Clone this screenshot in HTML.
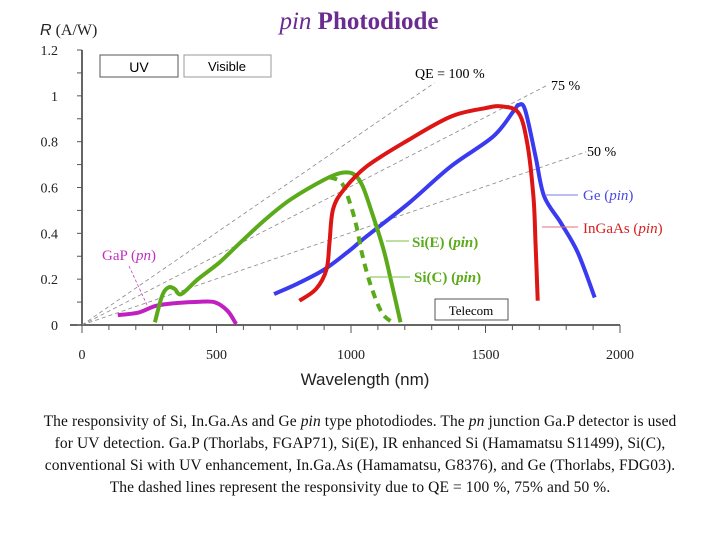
<!DOCTYPE html>
<html><head><meta charset="utf-8">
<style>
html,body{margin:0;padding:0;background:#fff;}
body{width:720px;height:540px;overflow:hidden;position:relative;font-family:"Liberation Serif",serif;}
#caption{position:absolute;left:0px;top:411px;width:720px;text-align:center;font-size:15.5px;letter-spacing:0.1px;line-height:22px;color:#111;white-space:nowrap;}
</style></head><body>
<svg id="chart" width="720" height="400" style="position:absolute;left:0;top:0" font-family="Liberation Serif, serif">
<text x="359" y="29" text-anchor="middle" font-size="25" font-weight="bold" fill="#6a2c91"><tspan font-style="italic" font-weight="normal">pin</tspan> Photodiode</text>
<text x="40" y="35" font-size="16" fill="#222"><tspan font-family="Liberation Sans, sans-serif" font-style="italic">R</tspan> (A/W)</text>
<text x="365" y="385" text-anchor="middle" font-size="17" fill="#222" font-family="Liberation Sans, sans-serif">Wavelength (nm)</text>
<g id="axes"></g>
<g id="qe"></g>
<g id="series"></g>
<g><rect x="100" y="55" width="78" height="22" fill="#fff" stroke="#555"/><text x="139" y="72" text-anchor="middle" font-size="14" font-family="Liberation Sans, sans-serif">UV</text></g>
<g><rect x="184" y="55" width="87" height="22" fill="#fff" stroke="#999"/><text x="227" y="71" text-anchor="middle" font-size="13" font-family="Liberation Sans, sans-serif">Visible</text></g>
<g><rect x="435" y="299" width="73" height="21" fill="#fff" stroke="#555"/><text x="471" y="315" text-anchor="middle" font-size="13">Telecom</text></g>
<text x="415" y="78" font-size="14">QE = 100 %</text>
<text x="551" y="90" font-size="14">75 %</text>
<text x="587" y="156" font-size="14">50 %</text>
<line x1="545" y1="195" x2="578" y2="195" stroke="#7a7ae0" stroke-width="1"/>
<text x="583" y="200" font-size="15" fill="#4a4ae0">Ge (<tspan font-style="italic">pin</tspan>)</text>
<line x1="542" y1="227" x2="578" y2="227" stroke="#e07070" stroke-width="1"/>
<text x="583" y="233" font-size="15" fill="#d62020">InGaAs (<tspan font-style="italic">pin</tspan>)</text>
<line x1="386" y1="241" x2="409" y2="241" stroke="#7bbf40" stroke-width="1"/>
<text x="412" y="247" font-size="15" font-weight="bold" fill="#5aaa1a">Si(E) (<tspan font-style="italic">pin</tspan>)</text>
<line x1="370" y1="277" x2="410" y2="277" stroke="#7bbf40" stroke-width="1"/>
<text x="414" y="282" font-size="15" font-weight="bold" fill="#5aaa1a">Si(C) (<tspan font-style="italic">pin</tspan>)</text>
<line x1="129" y1="266" x2="147" y2="305" stroke="#c040c0" stroke-width="0.8" stroke-dasharray="3,2"/>
<text x="102" y="260" font-size="15" fill="#c030c0">GaP (<tspan font-style="italic">pn</tspan>)</text>
</svg>
<div id="caption">The responsivity of Si, In.Ga.As and Ge <i>pin</i> type photodiodes. The <i>pn</i> junction Ga.P detector is used<br>for UV detection. Ga.P (Thorlabs, FGAP71), Si(E), IR enhanced Si (Hamamatsu S11499), Si(C),<br>conventional Si with UV enhancement, In.Ga.As (Hamamatsu, G8376), and Ge (Thorlabs, FDG03).<br>The dashed lines represent the responsivity due to QE = 100 %, 75% and 50 %.</div>
<script>
const xTicks=[0,500,1000,1500,2000];
const yTicks=[0,0.2,0.4,0.6,0.8,1,1.2];
const yTickLabels=["0","0.2","0.4","0.6","0.8","1","1.2"];
const qeLevels=[1.0,0.75,0.5];
const qeEnd=[1310,1733,1874];
const geX=[714,800,902,1000,1059,1216,1372,1529,1608,1623,1647,1686,1718,1780,1843,1906];
const geY=[0.135,0.18,0.243,0.33,0.388,0.533,0.693,0.823,0.94,0.96,0.94,0.736,0.562,0.446,0.316,0.12];
const inX=[808,870,909,920,933,973,1059,1216,1372,1498,1560,1623,1655,1678,1686,1694];
const inY=[0.106,0.157,0.243,0.36,0.504,0.59,0.693,0.809,0.91,0.946,0.954,0.925,0.794,0.562,0.36,0.106];
const siEX=[271,298,322,345,369,431,510,588,682,776,902,965,1012,1043,1074,1121,1153,1184];
const siEY=[0.012,0.128,0.164,0.157,0.135,0.2,0.272,0.359,0.461,0.548,0.635,0.664,0.657,0.606,0.504,0.33,0.171,0.012];
const siCX=[920,965,996,1020,1043,1074,1114,1153];
const siCY=[0.645,0.62,0.533,0.432,0.301,0.171,0.055,0.012];
const gapX=[133,212,275,353,431,494,541,573];
const gapY=[0.043,0.055,0.084,0.096,0.101,0.099,0.062,0.004];
const NS='http://www.w3.org/2000/svg';
const sx=v=>82+v*(620-82)/2000;
const sy=v=>325-v*(325-50)/1.2;
function mk(tag,attrs,parent){const e=document.createElementNS(NS,tag);for(const k in attrs)e.setAttribute(k,attrs[k]);parent.appendChild(e);return e;}
const axes=document.getElementById('axes');
let a=mk('line',{x1:82,y1:50,x2:82,y2:326,stroke:'#333','stroke-width':1.5},axes);


a=mk('line',{x1:70,y1:325,x2:620,y2:325,stroke:'#333','stroke-width':1.5},axes);


for(let v=0;v<=2000;v+=100){const major=v%500===0;mk('line',{x1:sx(v),y1:325,x2:sx(v),y2:major?333:330,stroke:'#555','stroke-width':1},axes);}
for(let v=0;v<=1.2001;v+=0.1){mk('line',{x1:77,y1:sy(v),x2:82,y2:sy(v),stroke:'#555','stroke-width':1},axes);}
xTicks.forEach(v=>{const t=mk('text',{x:sx(v),y:359,'text-anchor':'middle','font-size':14,fill:'#222'},axes);t.textContent=v;

});
yTicks.forEach((v,i)=>{const t=mk('text',{x:58,y:sy(v)+5,'text-anchor':'end','font-size':14,fill:'#222'},axes);t.textContent=yTickLabels[i];

});
const qe=document.getElementById('qe');
qeLevels.forEach((q,i)=>{const l=mk('line',{x1:sx(0),y1:sy(0),x2:sx(qeEnd[i]),y2:sy(q*qeEnd[i]/1240),stroke:'#888','stroke-width':0.8,'stroke-dasharray':'4,3'},qe);

});
const ser=document.getElementById('series');
function smooth(pts){let d='M'+pts[0][0].toFixed(1)+','+pts[0][1].toFixed(1);
for(let i=0;i<pts.length-1;i++){const p0=pts[i-1]||pts[i],p1=pts[i],p2=pts[i+1],p3=pts[i+2]||p2;
const c1=[p1[0]+(p2[0]-p0[0])/6,p1[1]+(p2[1]-p0[1])/6],c2=[p2[0]-(p3[0]-p1[0])/6,p2[1]-(p3[1]-p1[1])/6];
d+=' C'+c1.map(v=>v.toFixed(1)).join(',')+' '+c2.map(v=>v.toFixed(1)).join(',')+' '+p2[0].toFixed(1)+','+p2[1].toFixed(1);}
return d;}
function line(xs,ys,color,name,dash){const pts=xs.map((x,i)=>[sx(x),sy(ys[i])]);
const p=mk('path',{d:smooth(pts),fill:'none',stroke:color,'stroke-width':4,'stroke-linejoin':'round','stroke-linecap':'butt'},ser);
if(dash)p.setAttribute('stroke-dasharray',dash);

}
line(gapX,gapY,'#c020c0','gap-curve');
line(geX,geY,'#3a3af0','ge-curve');
line(siEX,siEY,'#5aaa1a','si-e-curve');
line(siCX,siCY,'#5aaa1a','si-c-curve','8,6');
line(inX,inY,'#dd1515','ingaas-curve');
</script>
</body></html>
